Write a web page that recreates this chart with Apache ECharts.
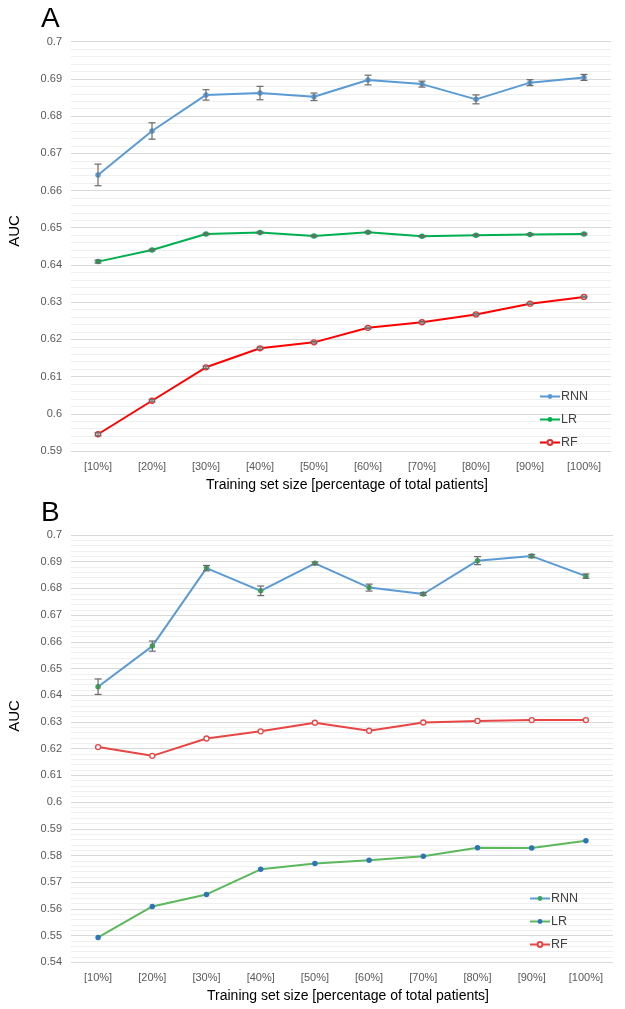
<!DOCTYPE html>
<html>
<head>
<meta charset="utf-8">
<script src="https://cdn.jsdelivr.net/npm/echarts@6/dist/echarts.min.js"></script>
<style>
html,body{margin:0;padding:0;background:#fff;}
#chart{width:625px;height:1009px;}
</style>
</head>
<body>
<div id="chart"></div>
<script>
// ---- data ----
const categories = ['[10%]','[20%]','[30%]','[40%]','[50%]','[60%]','[70%]','[80%]','[90%]','[100%]'];

// Panel A
const aRNN    = [0.6642, 0.6760, 0.6857, 0.6862, 0.6852, 0.6897, 0.6886, 0.6845, 0.6890, 0.6904];
const aRNNErr = [0.0029, 0.0022, 0.0014, 0.0018, 0.0010, 0.0013, 0.0008, 0.0012, 0.0008, 0.0008];
const aLR     = [0.6409, 0.6440, 0.6483, 0.6487, 0.6478, 0.6488, 0.6477, 0.6480, 0.6482, 0.6483];
const aLRErr  = [0.0004, 0.0002, 0.0002, 0.0002, 0.0002, 0.0002, 0.0002, 0.0002, 0.0002, 0.0002];
const aRF     = [0.5945, 0.6035, 0.6125, 0.6176, 0.6192, 0.6231, 0.6246, 0.6267, 0.6296, 0.6314];
const aRFErr  = [0.0004, 0.0003, 0.0003, 0.0003, 0.0002, 0.0002, 0.0002, 0.0002, 0.0002, 0.0002];

// Panel B
const bRNN    = [0.6432, 0.6584, 0.6876, 0.6791, 0.6894, 0.6803, 0.6779, 0.6904, 0.6921, 0.6846];
const bRNNErr = [0.0029, 0.0019, 0.0010, 0.0018, 0.0005, 0.0013, 0.0005, 0.0015, 0.0006, 0.0008];
const bLR     = [0.5493, 0.5609, 0.5654, 0.5748, 0.5770, 0.5782, 0.5797, 0.5829, 0.5828, 0.5855];
const bRF     = [0.6206, 0.6173, 0.6238, 0.6265, 0.6297, 0.6267, 0.6298, 0.6304, 0.6307, 0.6307];

const seriesNames = ['RNN', 'LR', 'RF'];
const yRangeA = [0.59, 0.70];
const yRangeB = [0.54, 0.70];
const yStep = 0.01;
const xTitle = 'Training set size [percentage of total patients]';
const yTitle = 'AUC';

// ---- chart ----
const chart = echarts.init(document.getElementById('chart'), null, {renderer: 'canvas'});
const font = 'Liberation Sans, Arial, sans-serif';

function errData(vals, errs) { return vals.map((v, i) => [i, v - errs[i], v + errs[i]]); }
function errSeries(vals, errs, idx) {
  return {
    type: 'custom', xAxisIndex: idx, yAxisIndex: idx, z: 5, silent: true,
    data: errData(vals, errs),
    encode: {x: 0, y: [1, 2]},
    renderItem: function (params, api) {
      const lo = api.coord([api.value(0), api.value(1)]);
      const hi = api.coord([api.value(0), api.value(2)]);
      const w = 3.5;
      const st = {stroke: '#6b6b6b', lineWidth: 1.2};
      return {type: 'group', children: [
        {type: 'line', shape: {x1: lo[0], y1: lo[1], x2: hi[0], y2: hi[1]}, style: st},
        {type: 'line', shape: {x1: lo[0]-w, y1: lo[1], x2: lo[0]+w, y2: lo[1]}, style: st},
        {type: 'line', shape: {x1: hi[0]-w, y1: hi[1], x2: hi[0]+w, y2: hi[1]}, style: st}
      ]};
    }
  };
}
function lineSeries(name, vals, idx, lineColor, markColor, hollow) {
  return {
    name: name, type: 'line', xAxisIndex: idx, yAxisIndex: idx, data: vals,
    symbol: 'circle', symbolSize: hollow ? 5 : 5.5, z: 3,
    lineStyle: {color: lineColor, width: 2},
    itemStyle: hollow ? {color: '#fff', borderColor: markColor, borderWidth: 1.3}
                      : {color: markColor, borderWidth: 0},
    color: lineColor
  };
}
function xAx(idx) {
  return {
    type: 'category', gridIndex: idx, data: categories, boundaryGap: true,
    axisLine: {show: false}, axisTick: {show: false},
    axisLabel: {color: '#595959', fontSize: 11, fontFamily: font, margin: 10},
    name: xTitle, nameLocation: 'middle', nameGap: 27,
    nameTextStyle: {color: '#000', fontSize: 14, fontFamily: font, padding: [0, 0, 0, 12]}
  };
}
function yAx(idx, range) {
  return {
    type: 'value', gridIndex: idx, min: range[0], max: range[1], interval: yStep,
    axisLine: {show: false}, axisTick: {show: false},
    axisLabel: {color: '#595959', fontSize: 11, fontFamily: font, margin: 9},
    splitLine: {show: true, lineStyle: {color: '#d9d9d9', width: 1}},
    minorTick: {show: false, splitNumber: 5},
    minorSplitLine: {show: true, lineStyle: {color: '#efefef', width: 1}}
  };
}
function legend(top, left, names) {
  return {
    data: names, orient: 'vertical', top: top, left: left,
    itemWidth: 20, itemHeight: 6, itemGap: 10,
    formatter: n => n.trim(),
    textStyle: {color: '#404040', fontSize: 12.5, fontFamily: font, padding: [0, 0, 0, -4]}
  };
}

const namesB = seriesNames.map(n => n + ' ');

const option = {
  backgroundColor: '#fff',
  animation: false,
  grid: [
    {left: 71, right: 14, top: 41.7, height: 409.3},
    {left: 71, right: 12, top: 535, height: 427.3}
  ],
  xAxis: [xAx(0), xAx(1)],
  yAxis: [yAx(0, yRangeA), yAx(1, yRangeB)],
  legend: [legend(385, 534, seriesNames), legend(887, 524, namesB)],
  graphic: [
    {type: 'text', left: 41, top: 5, style: {text: 'A', fontSize: 28, fontFamily: font, fill: '#000'}},
    {type: 'text', left: 41, top: 499, style: {text: 'B', fontSize: 28, fontFamily: font, fill: '#000'}},
    {type: 'text', x: 15, y: 231, rotation: Math.PI / 2,
     style: {text: yTitle, fontSize: 15, fontFamily: font, fill: '#000', align: 'center', verticalAlign: 'middle'}},
    {type: 'text', x: 15, y: 716, rotation: Math.PI / 2,
     style: {text: yTitle, fontSize: 15, fontFamily: font, fill: '#000', align: 'center', verticalAlign: 'middle'}}
  ],
  series: [
    lineSeries(seriesNames[0], aRNN, 0, '#5b9bd5', '#5b9bd5', false),
    lineSeries(seriesNames[1], aLR, 0, '#00b050', '#00b050', false),
    lineSeries(seriesNames[2], aRF, 0, '#ff0000', '#e03030', true),
    errSeries(aRNN, aRNNErr, 0),
    errSeries(aLR, aLRErr, 0),
    errSeries(aRF, aRFErr, 0),
    lineSeries(namesB[0], bRNN, 1, '#5b9bd5', '#3aa657', false),
    lineSeries(namesB[1], bLR, 1, '#5cb85c', '#2e75b6', false),
    lineSeries(namesB[2], bRF, 1, '#e84545', '#e84545', true),
    errSeries(bRNN, bRNNErr, 1)
  ]
};
chart.setOption(option);
</script>
</body>
</html>
